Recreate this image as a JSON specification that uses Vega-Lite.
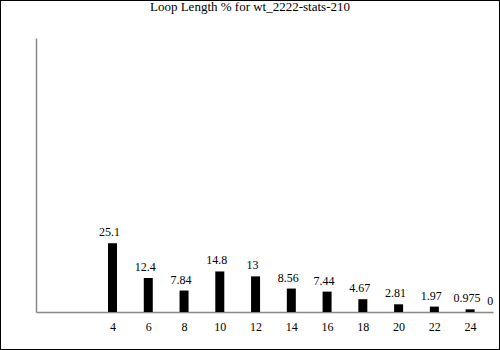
{
  "$schema": "https://vega.github.io/schema/vega-lite/v6.json",
  "width": 500,
  "height": 350,
  "autosize": {"type": "none"},
  "padding": 0,
  "background": "white",
  "config": {
    "view": {"stroke": "black", "strokeWidth": 2},
    "font": "Liberation Serif"
  },
  "title": {
    "text": "Loop Length % for wt_2222-stats-210",
    "font": "Liberation Serif",
    "fontSize": 13,
    "fontWeight": "normal",
    "color": "black",
    "anchor": "middle",
    "frame": "group",
    "offset": -14
  },
  "data": {
    "values": [
      {"len": 4, "pct": 25.1, "label": "25.1"},
      {"len": 6, "pct": 12.4, "label": "12.4"},
      {"len": 8, "pct": 7.84, "label": "7.84"},
      {"len": 10, "pct": 14.8, "label": "14.8"},
      {"len": 12, "pct": 13, "label": "13"},
      {"len": 14, "pct": 8.56, "label": "8.56"},
      {"len": 16, "pct": 7.44, "label": "7.44"},
      {"len": 18, "pct": 4.67, "label": "4.67"},
      {"len": 20, "pct": 2.81, "label": "2.81"},
      {"len": 22, "pct": 1.97, "label": "1.97"},
      {"len": 24, "pct": 0.975, "label": "0.975"},
      {"len": 25.3, "pct": 0, "label": "0"}
    ]
  },
  "encoding": {
    "x": {
      "field": "len",
      "type": "quantitative",
      "scale": {"domain": [0, 25], "range": [36, 493], "nice": false, "zero": false},
      "axis": {
        "title": null,
        "values": [4, 6, 8, 10, 12, 14, 16, 18, 20, 22, 24],
        "offset": -38,
        "ticks": false,
        "grid": false,
        "domainColor": "#888888",
        "domainWidth": 1.5,
        "labelFont": "Liberation Serif",
        "labelFontSize": 12,
        "labelColor": "black",
        "labelPadding": 9
      }
    },
    "y": {
      "field": "pct",
      "type": "quantitative",
      "scale": {"domain": [0, 100], "range": [312, 38], "nice": false},
      "axis": {
        "title": null,
        "labels": false,
        "ticks": false,
        "grid": false,
        "offset": -36,
        "domainColor": "#888888",
        "domainWidth": 1.5
      }
    }
  },
  "layer": [
    {
      "mark": {"type": "bar", "size": 9, "color": "black", "clip": false},
      "transform": [{"filter": "datum.pct > 0"}]
    },
    {
      "mark": {
        "type": "text",
        "baseline": "bottom",
        "dy": -4,
        "dx": -3,
        "font": "Liberation Serif",
        "fontSize": 12,
        "color": "black",
        "clip": false
      },
      "encoding": {"text": {"field": "label"}}
    }
  ]
}
